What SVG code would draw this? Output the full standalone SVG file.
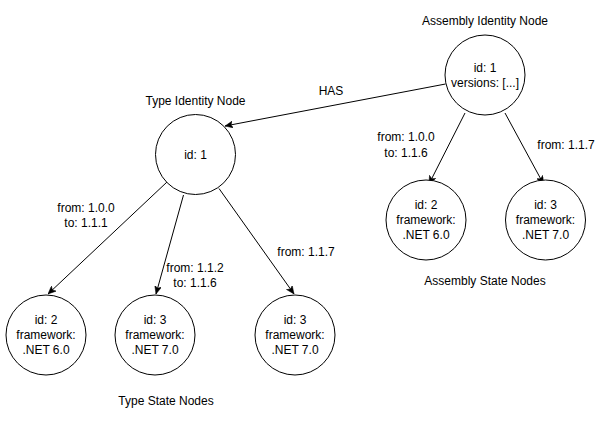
<svg xmlns="http://www.w3.org/2000/svg" width="611" height="421" viewBox="0 0 611 421">
<style>
.n{fill:#fff;stroke:#000;stroke-width:1}
.t{font-family:"Liberation Sans",Arial,sans-serif;font-size:12px;fill:#000;text-anchor:middle}
.e{fill:none;stroke:#000;stroke-width:1}
</style>
<defs>
<marker id="arr" markerUnits="userSpaceOnUse" viewBox="0 0 8 7" refX="8" refY="3.5" markerWidth="8" markerHeight="7" orient="auto">
<path d="M0,0 L8,3.5 L0,7 L2,3.5 Z" fill="#000" stroke="#000" stroke-width="0.5"/>
</marker>
</defs>
<rect width="611" height="421" fill="#fff"/>
<g id="connectors">
<line class="e" x1="445.5" y1="84" x2="225" y2="126" marker-end="url(#arr)"/>
<line class="e" x1="167" y1="182" x2="48" y2="294" marker-end="url(#arr)"/>
<line class="e" x1="183.5" y1="195" x2="156" y2="294" marker-end="url(#arr)"/>
<line class="e" x1="219" y1="188.5" x2="294" y2="294" marker-end="url(#arr)"/>
<line class="e" x1="465" y1="113" x2="429" y2="184" marker-end="url(#arr)"/>
<line class="e" x1="505" y1="113" x2="543.5" y2="184" marker-end="url(#arr)"/>
<text class="t" x="331" y="95">HAS</text>
<text class="t" x="86" y="212">from: 1.0.0</text>
<text class="t" x="86" y="227">to: 1.1.1</text>
<text class="t" x="195" y="272">from: 1.1.2</text>
<text class="t" x="195" y="287">to: 1.1.6</text>
<text class="t" x="306" y="256">from: 1.1.7</text>
<text class="t" x="406" y="141">from: 1.0.0</text>
<text class="t" x="406" y="157">to: 1.1.6</text>
<text class="t" x="566" y="149">from: 1.1.7</text>
</g>
<g id="assembly-identity">
<circle class="n" cx="485" cy="75" r="40"/>
<text class="t" x="485" y="72">id: 1</text>
<text class="t" x="485" y="87">versions: [...]</text>
<text class="t" x="485" y="25">Assembly Identity Node</text>
</g>
<g id="type-identity">
<circle class="n" cx="195.5" cy="154.5" r="40"/>
<text class="t" x="195.5" y="159">id: 1</text>
<text class="t" x="195.5" y="105">Type Identity Node</text>
</g>
<g id="type-state-1">
<circle class="n" cx="46" cy="335" r="40"/>
<text class="t" x="46" y="324">id: 2</text>
<text class="t" x="46" y="339">framework:</text>
<text class="t" x="46" y="354">.NET 6.0</text>
</g>
<g id="type-state-2">
<circle class="n" cx="155" cy="335" r="40"/>
<text class="t" x="155" y="324">id: 3</text>
<text class="t" x="155" y="339">framework:</text>
<text class="t" x="155" y="354">.NET 7.0</text>
</g>
<g id="type-state-3">
<circle class="n" cx="295" cy="335" r="40"/>
<text class="t" x="295" y="324">id: 3</text>
<text class="t" x="295" y="339">framework:</text>
<text class="t" x="295" y="354">.NET 7.0</text>
</g>
<g id="type-state-label">
<text class="t" x="166" y="405">Type State Nodes</text>
</g>
<g id="assembly-state-1">
<circle class="n" cx="426" cy="220" r="40"/>
<text class="t" x="426" y="209">id: 2</text>
<text class="t" x="426" y="224">framework:</text>
<text class="t" x="426" y="239">.NET 6.0</text>
</g>
<g id="assembly-state-2">
<circle class="n" cx="545.5" cy="220" r="40"/>
<text class="t" x="545.5" y="209">id: 3</text>
<text class="t" x="545.5" y="224">framework:</text>
<text class="t" x="545.5" y="239">.NET 7.0</text>
</g>
<g id="assembly-state-label">
<text class="t" x="485" y="285">Assembly State Nodes</text>
</g>
</svg>
